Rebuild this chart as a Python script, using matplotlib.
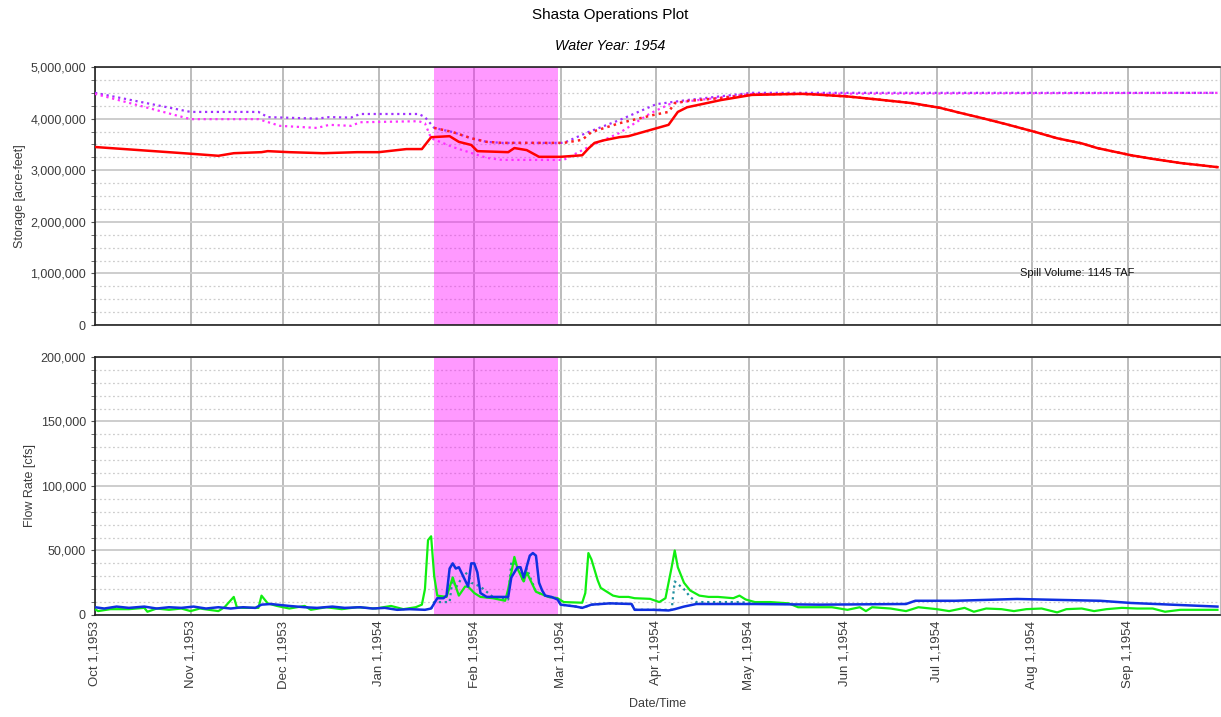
import matplotlib
matplotlib.use("Agg")
import matplotlib.pyplot as plt
import matplotlib.dates as mdates
from matplotlib.ticker import MultipleLocator, FuncFormatter
import pandas as pd

plt.rcParams['font.family'] = ['Liberation Sans', 'DejaVu Sans']

# Reservoir storage, million acre-feet
stor_dates = ['1953-10-01', '1953-11-01', '1953-11-10', '1953-11-15', '1953-11-24', '1953-11-26',
              '1953-12-03', '1953-12-14', '1953-12-25', '1954-01-01', '1954-01-10', '1954-01-15',
              '1954-01-18', '1954-01-24', '1954-01-27', '1954-01-31', '1954-02-02', '1954-02-12',
              '1954-02-14', '1954-02-18', '1954-02-22', '1954-03-01', '1954-03-08', '1954-03-10',
              '1954-03-12', '1954-03-15', '1954-03-20', '1954-03-23', '1954-04-05', '1954-04-08',
              '1954-04-11', '1954-04-22', '1954-05-02', '1954-05-18', '1954-05-22', '1954-06-02',
              '1954-06-12', '1954-06-23', '1954-07-02', '1954-07-08', '1954-07-15', '1954-07-23',
              '1954-08-02', '1954-08-09', '1954-08-17', '1954-08-22', '1954-09-02', '1954-09-09',
              '1954-09-18', '1954-09-30']
stor_actual = [3.45, 3.32, 3.28, 3.33, 3.35, 3.37, 3.35, 3.33, 3.35, 3.35, 3.41, 3.41,
               3.64, 3.66, 3.55, 3.49, 3.37, 3.35, 3.43, 3.39, 3.26, 3.26, 3.29, 3.42,
               3.53, 3.58, 3.64, 3.66, 3.88, 4.13, 4.22, 4.36, 4.46, 4.48, 4.47, 4.43,
               4.37, 4.30, 4.21, 4.12, 4.02, 3.90, 3.74, 3.62, 3.52, 3.43, 3.29, 3.22,
               3.14, 3.06]

# Forecast storage until it rejoins the observed curve
fcst_dates = ['1954-01-19', '1954-01-25', '1954-01-31', '1954-02-05', '1954-02-10', '1954-03-02',
              '1954-03-08', '1954-03-11', '1954-03-20', '1954-03-31', '1954-04-05', '1954-04-07',
              '1954-04-11', '1954-04-22', '1954-05-02']
fcst_head = [3.82, 3.74, 3.62, 3.55, 3.53, 3.53, 3.59, 3.74, 3.91, 4.07, 4.13, 4.30,
             4.34, 4.40, 4.47]

# Flood control curves, million acre-feet
fc_top_dates = ['1953-10-01', '1953-11-01', '1953-11-23', '1953-11-26', '1953-12-12', '1953-12-16',
                '1953-12-23', '1953-12-26', '1954-01-14', '1954-01-16', '1954-01-19', '1954-01-25',
                '1954-01-31', '1954-02-05', '1954-02-10', '1954-03-02', '1954-03-10', '1954-03-20',
                '1954-04-01', '1954-04-11', '1954-05-02', '1954-09-30']
fc_top = [4.50, 4.13, 4.13, 4.03, 4.00, 4.03, 4.02, 4.09, 4.09, 4.03, 3.82, 3.74,
          3.62, 3.55, 3.53, 3.53, 3.74, 3.97, 4.28, 4.36, 4.50, 4.50]

fc_low_dates = ['1953-10-01', '1953-11-01', '1953-11-23', '1953-11-30', '1953-12-12', '1953-12-16',
                '1953-12-23', '1953-12-26', '1954-01-14', '1954-01-16', '1954-01-18', '1954-01-25',
                '1954-02-05', '1954-02-10', '1954-03-02', '1954-03-10', '1954-03-20', '1954-03-30',
                '1954-04-06', '1954-05-02', '1954-09-30']
fc_low = [4.48, 3.99, 3.99, 3.86, 3.82, 3.88, 3.86, 3.93, 3.95, 3.91, 3.62, 3.45,
          3.24, 3.20, 3.20, 3.45, 3.72, 4.10, 4.30, 4.48, 4.50]

# Inflow, 1000 cfs
inflow_dates = ['1953-10-01', '1953-10-02', '1953-10-06', '1953-10-12', '1953-10-17', '1953-10-18',
                '1953-10-21', '1953-10-25', '1953-10-29', '1953-11-01', '1953-11-04', '1953-11-07',
                '1953-11-10', '1953-11-12', '1953-11-15', '1953-11-16', '1953-11-18', '1953-11-23',
                '1953-11-24', '1953-11-26', '1953-11-29', '1953-12-03', '1953-12-08', '1953-12-10',
                '1953-12-15', '1953-12-20', '1953-12-25', '1953-12-31', '1954-01-05', '1954-01-09',
                '1954-01-13', '1954-01-15', '1954-01-16', '1954-01-17', '1954-01-18', '1954-01-19',
                '1954-01-20', '1954-01-23', '1954-01-25', '1954-01-27', '1954-01-29', '1954-01-30',
                '1954-02-01', '1954-02-03', '1954-02-07', '1954-02-11', '1954-02-12', '1954-02-14',
                '1954-02-15', '1954-02-17', '1954-02-18', '1954-02-21', '1954-02-25', '1954-02-28',
                '1954-03-02', '1954-03-08', '1954-03-09', '1954-03-10', '1954-03-11', '1954-03-13',
                '1954-03-14', '1954-03-16', '1954-03-18', '1954-03-20', '1954-03-23', '1954-03-25',
                '1954-03-30', '1954-04-02', '1954-04-04', '1954-04-06', '1954-04-07', '1954-04-08',
                '1954-04-10', '1954-04-12', '1954-04-15', '1954-04-18', '1954-04-21', '1954-04-26',
                '1954-04-28', '1954-04-30', '1954-05-03', '1954-05-08', '1954-05-14', '1954-05-17',
                '1954-05-24', '1954-05-28', '1954-06-02', '1954-06-06', '1954-06-08', '1954-06-10',
                '1954-06-16', '1954-06-21', '1954-06-25', '1954-07-01', '1954-07-05', '1954-07-10',
                '1954-07-13', '1954-07-17', '1954-07-22', '1954-07-26', '1954-07-30', '1954-08-04',
                '1954-08-09', '1954-08-12', '1954-08-17', '1954-08-21', '1954-08-25', '1954-08-30',
                '1954-09-04', '1954-09-09', '1954-09-13', '1954-09-18', '1954-09-24', '1954-09-30']
inflow = [4.5, 3.0, 4.5, 4.5, 5.5, 2.5, 5.0, 4.0, 5.0, 3.0, 5.0, 4.0,
          3.0, 6.0, 14.0, 6.0, 5.5, 5.5, 15.0, 9.0, 7.0, 5.0, 7.0, 4.0,
          6.0, 4.5, 6.0, 5.0, 7.0, 4.5, 6.0, 8.0, 20.0, 58.0, 61.0, 30.0,
          15.0, 14.0, 29.0, 15.0, 22.0, 22.0, 17.0, 14.0, 13.0, 11.0, 20.0, 45.0,
          36.0, 26.0, 33.0, 18.0, 14.0, 13.0, 10.0, 9.5, 17.0, 48.0, 43.0, 27.0,
          21.0, 18.0, 15.0, 14.0, 14.0, 13.0, 12.5, 10.0, 13.0, 37.0, 50.0, 37.0,
          25.0, 19.0, 15.0, 14.0, 14.0, 13.0, 15.0, 12.0, 10.0, 10.0, 9.0, 6.0,
          6.0, 6.0, 4.0, 6.0, 3.0, 6.0, 5.0, 3.0, 6.0, 4.5, 3.0, 5.5,
          2.5, 5.0, 4.5, 3.0, 4.5, 5.0, 2.0, 4.5, 5.0, 3.0, 4.5, 5.5,
          5.0, 5.0, 2.5, 4.0, 4.0, 4.0]

# Release, 1000 cfs
release_dates = ['1953-10-01', '1953-10-04', '1953-10-08', '1953-10-12', '1953-10-17', '1953-10-21',
                 '1953-10-25', '1953-10-29', '1953-11-02', '1953-11-06', '1953-11-10', '1953-11-14',
                 '1953-11-18', '1953-11-22', '1953-11-24', '1953-11-27', '1953-12-03', '1953-12-08',
                 '1953-12-12', '1953-12-17', '1953-12-21', '1953-12-26', '1953-12-30', '1954-01-03',
                 '1954-01-07', '1954-01-11', '1954-01-16', '1954-01-18', '1954-01-19', '1954-01-20',
                 '1954-01-22', '1954-01-23', '1954-01-24', '1954-01-25', '1954-01-26', '1954-01-27',
                 '1954-01-28', '1954-01-30', '1954-01-31', '1954-02-01', '1954-02-02', '1954-02-03',
                 '1954-02-05', '1954-02-12', '1954-02-13', '1954-02-15', '1954-02-16', '1954-02-17',
                 '1954-02-19', '1954-02-20', '1954-02-21', '1954-02-22', '1954-02-23', '1954-02-24',
                 '1954-02-26', '1954-02-28', '1954-03-01', '1954-03-06', '1954-03-08', '1954-03-11',
                 '1954-03-14', '1954-03-17', '1954-03-24', '1954-03-25', '1954-03-31', '1954-04-05',
                 '1954-04-07', '1954-04-10', '1954-04-14', '1954-04-21', '1954-05-03', '1954-05-24',
                 '1954-06-21', '1954-06-24', '1954-07-07', '1954-07-27', '1954-08-11', '1954-08-23',
                 '1954-09-02', '1954-09-30']
release = [6.0, 5.0, 6.5, 5.5, 6.5, 5.0, 6.0, 5.5, 6.5, 5.0, 6.0, 5.0,
           6.0, 5.5, 8.0, 8.5, 7.0, 6.0, 5.5, 6.5, 5.5, 6.0, 5.0, 5.5,
           4.0, 4.5, 4.0, 5.0, 9.0, 13.0, 13.0, 15.0, 36.0, 40.0, 36.0, 37.0,
           32.0, 22.0, 40.0, 40.0, 33.0, 17.0, 14.0, 14.0, 29.0, 37.0, 37.0, 29.0,
           46.0, 48.0, 46.0, 25.0, 19.0, 15.0, 14.0, 12.0, 8.0, 6.5, 5.5, 8.0,
           8.5, 9.0, 8.5, 4.0, 4.0, 3.5, 4.5, 6.5, 8.5, 8.5, 8.5, 8.0,
           8.5, 11.0, 11.0, 12.4, 11.6, 11.0, 9.3, 6.5]

# Routed flow, 1000 cfs
routed_dates = ['1954-01-18', '1954-01-19', '1954-01-24', '1954-01-25', '1954-01-26', '1954-01-27',
                '1954-01-29', '1954-01-30', '1954-01-31', '1954-02-03', '1954-02-07', '1954-02-12',
                '1954-02-13', '1954-02-15', '1954-02-17', '1954-02-18', '1954-02-21', '1954-02-25',
                '1954-02-28', '1954-03-01', '1954-03-06', '1954-03-08', '1954-03-11', '1954-03-14',
                '1954-03-17', '1954-03-24', '1954-03-25', '1954-03-31', '1954-04-06', '1954-04-07',
                '1954-04-10', '1954-04-12', '1954-04-14', '1954-04-21', '1954-04-28', '1954-05-03',
                '1954-05-14']
routed = [5.0, 10.0, 10.0, 29.0, 21.0, 25.0, 33.0, 31.0, 25.0, 22.0, 14.0, 12.0,
          41.0, 39.0, 25.0, 36.0, 18.0, 14.0, 13.0, 8.0, 6.5, 5.5, 8.0, 8.5,
          9.0, 8.5, 4.0, 4.0, 4.0, 26.0, 20.0, 14.0, 10.0, 10.0, 10.0, 9.0,
          8.5]

spill_start, spill_end = '1954-01-19', '1954-02-28'
spill_volume = 1145


def series(dates, values, scale):
    return pd.Series([v * scale for v in values], index=pd.to_datetime(dates))


actual = series(stor_dates, stor_actual, 1e6)
forecast = pd.concat([series(fcst_dates, fcst_head, 1e6), actual[actual.index >= '1954-05-18']])
top = series(fc_top_dates, fc_top, 1e6)
low = series(fc_low_dates, fc_low, 1e6)
q_in = series(inflow_dates, inflow, 1e3)
q_out = series(release_dates, release, 1e3)
q_rt = series(routed_dates, routed, 1e3)

fig = plt.figure(figsize=(12.21, 7.17), dpi=100)
ax1 = fig.add_axes([0.0778, 0.5467, 0.9214, 0.3598])
ax2 = fig.add_axes([0.0778, 0.1423, 0.9214, 0.3598], sharex=ax1)

tick_col = '#3c3c3c'


def style(ax, ymax, major, minor, label):
    ax.set_ylim(0, ymax)
    ax.yaxis.set_major_locator(MultipleLocator(major))
    ax.yaxis.set_minor_locator(MultipleLocator(minor))
    ax.yaxis.set_major_formatter(FuncFormatter(lambda v, p: f'{v:,.0f}'))
    ax.set_axisbelow(True)
    ax.grid(which='major', axis='y', color='#cdcdcd', lw=1.4)
    ax.grid(which='minor', axis='y', color='#cdcdcd', ls=(0, (1.5, 2)), lw=0.9)
    ax.grid(which='major', axis='x', color='#bcbcbc', lw=1.4)
    ax.tick_params(axis='y', which='both', direction='out', colors='#555555',
                   labelcolor=tick_col, labelsize=9, length=3)
    ax.tick_params(axis='x', length=0)
    ax.set_ylabel(label, fontsize=9, color=tick_col, labelpad=3)
    for side in ['left', 'bottom', 'top']:
        ax.spines[side].set_color('#222222')
        ax.spines[side].set_linewidth(1.2)
    ax.spines['right'].set_color('#bcbcbc')
    ax.axvspan(pd.Timestamp(spill_start), pd.Timestamp(spill_end), color='#ff00ff',
               alpha=0.4, lw=0, zorder=1)


style(ax1, 5e6, 1e6, 2.5e5, 'Storage [acre-feet]')
style(ax2, 2e5, 5e4, 1e4, 'Flow Rate [cfs]')

ax1.plot(top.index, top.values, color='#a030ff', ls=':', lw=1.6, zorder=3)
ax1.plot(low.index, low.values, color='#ff30ff', ls=':', lw=1.6, zorder=3)
ax1.plot(forecast.index, forecast.values, color='#ff2020', ls=':', lw=1.8, zorder=3)
ax1.plot(actual.index, actual.values, color='#ff0000', lw=1.8, zorder=4)
ax1.text(0.873, 0.2, f'Spill Volume: {spill_volume} TAF', transform=ax1.transAxes,
         ha='center', va='center', fontsize=8, color='#111111')

ax2.plot(q_rt.index, q_rt.values, color='#1f8f9f', ls=':', lw=1.6, zorder=3)
ax2.plot(q_in.index, q_in.values, color='#10ee10', lw=1.6, zorder=4)
ax2.plot(q_out.index, q_out.values, color='#1030e0', lw=1.8, zorder=5)

ax1.set_xlim(pd.Timestamp('1953-10-01'), pd.Timestamp('1954-09-30 20:00'))
ax2.xaxis.set_major_locator(mdates.MonthLocator())
ax2.xaxis.set_major_formatter(FuncFormatter(
    lambda v, p: (lambda d: f'{d:%b} {d.day},{d.year}')(mdates.num2date(v))))
ax1.tick_params(axis='x', labelbottom=False)
for lab in ax2.get_xticklabels():
    lab.set_rotation(90)
ax2.tick_params(axis='x', labelsize=9.5, labelcolor=tick_col, pad=4)
ax2.set_xlabel('Date/Time', fontsize=9, color=tick_col, labelpad=6)

fig.text(0.5, 0.979, 'Shasta Operations Plot', ha='center', va='center', fontsize=11)
fig.text(0.5, 0.936, 'Water Year: 1954', ha='center', va='center', fontsize=10.3,
         style='italic')

fig.savefig('out.png', dpi=100)
